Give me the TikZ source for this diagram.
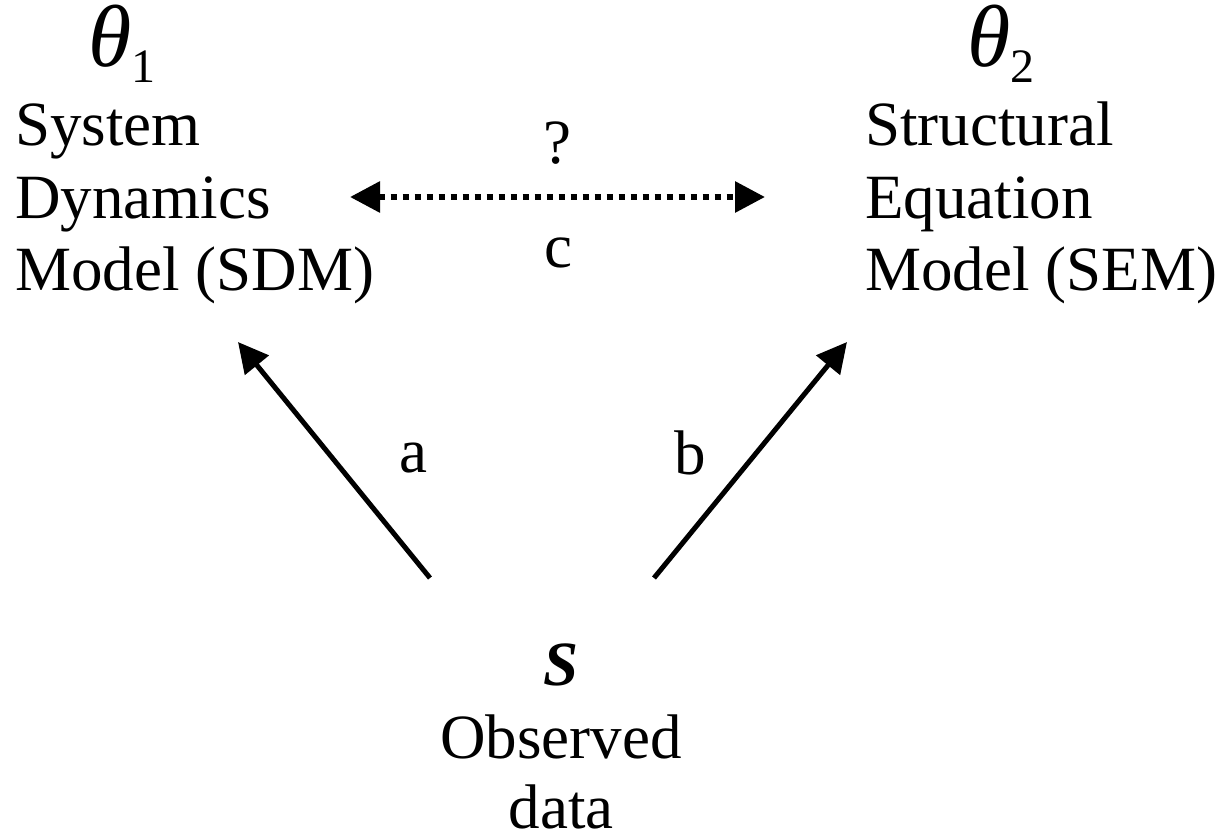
\documentclass[tikz,border=0pt]{standalone}
\usepackage{fontspec}
\setmainfont{Liberation Serif}
\usetikzlibrary{arrows.meta}
\begin{document}
\begin{tikzpicture}[x=0.5pt,y=-0.5pt,
  txt/.style={inner sep=0pt, font=\fontsize{31.5}{36}\selectfont},
  greek/.style={inner sep=0pt, text height=25pt, text depth=9pt,
    font=\fontsize{44}{44}\selectfont\itshape},
  solidarrow/.style={line width=2.5pt, -{Triangle[length=15pt,width=15pt]}},
  dotarrow/.style={line width=3pt, dash pattern=on 3pt off 3pt,
    {Triangle[length=15pt,width=15pt]}-{Triangle[length=15pt,width=15pt]}}]
\useasboundingbox (0,0) rectangle (1226,840);
\newcommand\subsc[1]{\smash{\raisebox{-8pt}{\fontsize{24}{24}\selectfont\upshape #1}}}
% left block
\node[greek, anchor=base west] (th1) at (88,67) {θ\kern0pt\subsc{1}};
\node[txt, anchor=base west] (l1) at (15,146) {System};
\node[txt, anchor=base west] (l2) at (15,218) {Dynamics};
\node[txt, anchor=base west] (l3) at (15,290) {Model (SDM)};
% right block
\node[greek, anchor=base west] (th2) at (967,67) {θ\kern0pt\subsc{2}};
\node[txt, anchor=base west] (r1) at (865,146) {Structural};
\node[txt, anchor=base west] (r2) at (865,218) {Equation};
\node[txt, anchor=base west] (r3) at (865,290) {Model (SEM)};
% bottom block
\node[txt, anchor=base, font=\fontsize{31.5}{36}\selectfont\bfseries\itshape] (s) at (561,685) {S};
\node[txt, anchor=base] (b1) at (561,758) {Observed};
\node[txt, anchor=base] (b2) at (561,828) {data};
% labels
\node[txt, anchor=base] (q) at (557,163) {?};
\node[txt, anchor=base] (c) at (558,267) {c};
\node[txt, anchor=base] (la) at (413,472) {a};
\node[txt, anchor=base] (lb) at (690,474) {b};
% connector ends
\coordinate (dl) at (350,197);
\coordinate (dr) at (765,197);
\coordinate (aTail) at (430,578);
\coordinate (aTip) at (238,342);
\coordinate (bTail) at (654,578);
\coordinate (bTip) at (847,342);
\draw[dotarrow] (dl) -- (dr);
\draw[solidarrow] (aTail) -- (aTip);
\draw[solidarrow] (bTail) -- (bTip);
\end{tikzpicture}
\end{document}
